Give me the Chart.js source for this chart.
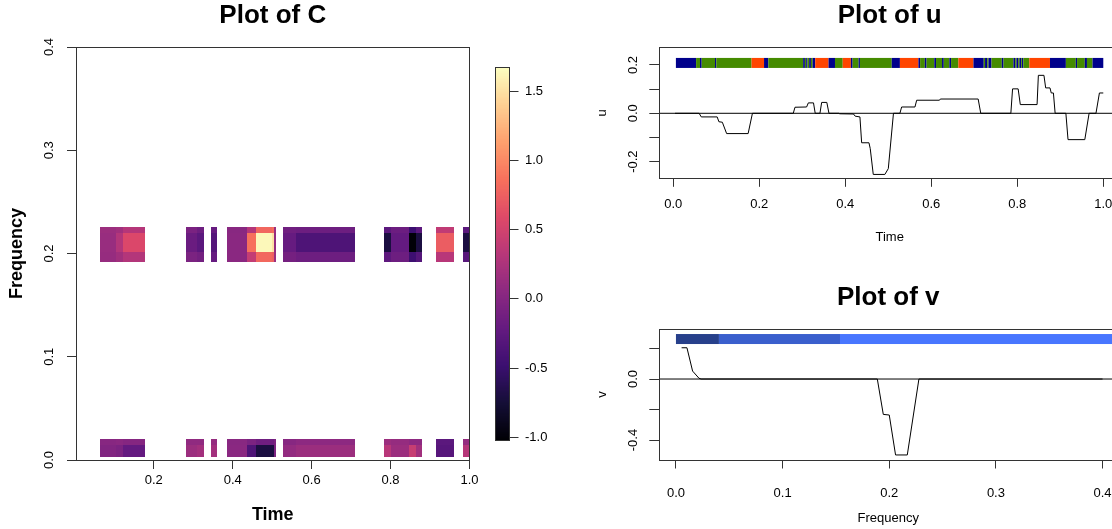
<!DOCTYPE html>
<html>
<head>
<meta charset="utf-8">
<script src="https://cdn.jsdelivr.net/npm/chart.js@4.4.1/dist/chart.umd.min.js"></script>
<style>
html,body{margin:0;padding:0;background:#fff;overflow:hidden;width:1112px;height:529px;position:relative}
.w{position:absolute}
canvas{display:block}
</style>
</head>
<body>
<div class="w" style="left:0;top:0"><canvas id="cvC" width="480" height="529"></canvas></div>
<div class="w" style="left:480px;top:0"><canvas id="cvBar" width="80" height="529"></canvas></div>
<div class="w" style="left:560px;top:0"><canvas id="cvU" width="600" height="260"></canvas></div>
<div class="w" style="left:560px;top:260px"><canvas id="cvV" width="600" height="269"></canvas></div>
<script>
// ---------------- DATA ----------------
// Heatmap C: time columns, frequency rows, values
const cTimeStart = [0.0639,0.1044,0.1214,0.2811,0.3090,0.3440,0.3845,0.4357,0.4586,0.4991,0.5037,0.5265,0.5615,0.7838,0.8023,0.8472,0.8641,0.9148,0.9833];
const cTimeEnd   = [0.1044,0.1214,0.1779,0.3090,0.3262,0.3610,0.4357,0.4586,0.4991,0.5037,0.5105,0.5615,0.7095,0.8023,0.8472,0.8641,0.8801,0.9605,1.0000];
const cFreqLow  = [0.0032,0.0145,0.1921,0.2012,0.2199];
const cFreqHigh = [0.0145,0.0200,0.2012,0.2199,0.2254];
const cRowA = [-0.02,-0.06,-0.21,0.15,0.20,0.20,0.04,-0.36,-0.70,-0.70,-0.05,0.10,0.15,0.33,0.15,0.43,0.19,-0.30,0.32];
const cRowB = [0.02,0.04,0.01,0.08,0.08,0.11,0.03,-0.06,-0.14,-0.14,-0.05,0.02,0.06,0.15,0.11,0.06,0.06,-0.27,0.11];
const cRowC = [0.12,0.19,0.30,-0.06,-0.11,-0.20,0.04,0.41,0.81,0.76,0.15,-0.10,-0.15,-0.25,-0.15,-0.47,-0.32,0.33,-0.29];
const cRowD = [0.13,0.30,0.57,-0.17,-0.27,-0.31,0.04,0.86,1.64,1.51,0.11,-0.20,-0.36,-0.70,-0.21,-1.00,-0.70,0.73,-0.70];
const cRowE = [0.15,0.19,0.31,-0.065,-0.15,-0.20,0.03,0.31,0.80,0.84,0.15,-0.13,-0.15,-0.27,-0.16,-0.48,-0.27,0.39,-0.27];
const cRange = [-1.02, 1.67];
const cTimeTicks = [0.2,0.4,0.6,0.8,1.0];
const cFreqTicks = [0.0,0.1,0.2,0.3,0.4];
const cBarTicks = [-1.0,-0.5,0.0,0.5,1.0,1.5];

// u series
const uTime  = [0.004,0.060,0.065,0.102,0.106,0.114,0.124,0.174,0.184,0.279,0.283,0.310,0.314,0.326,0.330,0.341,0.345,0.357,0.362,0.385,0.387,0.419,0.423,0.434,0.438,0.455,0.458,0.465,0.492,0.500,0.512,0.527,0.531,0.562,0.566,0.619,0.621,0.709,0.715,0.785,0.789,0.802,0.807,0.846,0.849,0.862,0.866,0.876,0.879,0.884,0.888,0.913,0.918,0.957,0.967,0.983,0.991,1.000];
const uValue = [0,0,-0.015,-0.015,-0.035,-0.037,-0.084,-0.084,0,0,0.025,0.026,0.043,0.043,0,0,0.045,0.045,0,0,-0.002,-0.003,-0.012,-0.015,-0.122,-0.122,-0.146,-0.253,-0.253,-0.229,0,0,0.026,0.026,0.054,0.054,0.059,0.059,0,0,0.101,0.101,0.036,0.036,0.157,0.157,0.105,0.105,0.084,0.084,0,0,-0.109,-0.109,0,0,0.084,0.084];
const uStripStart = [0.006,0.053,0.062,0.066,0.097,0.100,0.182,0.211,0.221,0.302,0.306,0.309,0.312,0.316,0.320,0.324,0.330,0.361,0.376,0.394,0.413,0.417,0.431,0.434,0.508,0.527,0.570,0.574,0.585,0.589,0.607,0.611,0.625,0.629,0.642,0.646,0.663,0.698,0.722,0.725,0.730,0.733,0.740,0.764,0.768,0.791,0.795,0.798,0.802,0.805,0.809,0.811,0.814,0.828,0.876,0.913,0.936,0.939,0.957,0.962,0.975];
const uStripEnd   = [0.053,0.062,0.066,0.097,0.100,0.182,0.211,0.221,0.302,0.306,0.309,0.312,0.316,0.320,0.324,0.330,0.361,0.376,0.394,0.413,0.417,0.431,0.434,0.508,0.527,0.570,0.574,0.585,0.589,0.607,0.611,0.625,0.629,0.642,0.646,0.663,0.698,0.722,0.725,0.730,0.733,0.740,0.764,0.768,0.791,0.795,0.798,0.802,0.805,0.809,0.811,0.814,0.828,0.876,0.913,0.936,0.939,0.957,0.962,0.975,1.000];
const uStripClass = ['N','G','N','G','N','G','O','N','G','N','G','N','G','N','G','N','O','N','G','O','N','G','N','G','N','O','N','G','N','G','N','G','N','G','N','G','O','N','G','N','G','N','G','N','G','N','G','N','G','N','G','N','G','O','N','G','N','G','N','G','N'];
const uStripBand = [0.1876, 0.229];
const uXTicks = [0.0,0.2,0.4,0.6,0.8,1.0];
const uYTicks = [-0.2,-0.1,0.0,0.1,0.2];
const uYLabelled = [-0.2,0.0,0.2];

// v series
const vFreq  = [0.0053,0.0103,0.0156,0.0216,0.0235,0.1888,0.1944,0.2000,0.2059,0.2169,0.2278,0.4000];
const vValue = [0.205,0.205,0.052,0.005,0,0,-0.232,-0.236,-0.498,-0.498,0,0];
const vStripStart = [0.000,0.0403,0.1538];
const vStripEnd   = [0.0403,0.1538,0.4141];
const vStripClass = ['royalblue4','royalblue3','royalblue1'];
const vStripBand = [0.2295, 0.295];
const vXTicks = [0.0,0.1,0.2,0.3,0.4];
const vYTicks = [-0.4,-0.2,0.0,0.2];
const vYLabelled = [-0.4,0.0];

// ---------------- STYLE ----------------
const stripColors = {N:'#00008B', G:'#458B00', O:'#FF4500', royalblue4:'#27408B', royalblue3:'#3A5FCD', royalblue1:'#4876FF'};
const magmaStops = ['#000004','#140e36','#3b0f70','#641a80','#8c2981','#b73779','#de4968','#f7705c','#fe9f6d','#fecf92','#fcfdbf'];
const AX = '#333';
Chart.defaults.font.family = "'Liberation Sans', Arial, sans-serif";
Chart.defaults.color = '#000';

function hex2rgb(h){return [parseInt(h.substr(1,2),16),parseInt(h.substr(3,2),16),parseInt(h.substr(5,2),16)];}
const magmaRGB = magmaStops.map(hex2rgb);
function magma(v){
  let t = (v - cRange[0])/(cRange[1]-cRange[0]);
  t = Math.max(0, Math.min(1, t));
  const p = t*(magmaRGB.length-1), i = Math.min(Math.floor(p), magmaRGB.length-2), f = p - i;
  const a = magmaRGB[i], b = magmaRGB[i+1];
  return 'rgb(' + [0,1,2].map(k=>Math.round(a[k]+(b[k]-a[k])*f)).join(',') + ')';
}
function fixed(size, horiz){
  return function(s){
    if (horiz) s.height = size; else s.width = size;
    s.paddingLeft = 0; s.paddingRight = 0; s.paddingTop = 0; s.paddingBottom = 0;
  };
}
function setTicks(arr){ return function(s){ s.ticks = arr.map(v=>({value:v})); }; }
function labelIf(list){ return function(v){ return list.some(l=>Math.abs(l-v)<1e-9) ? Number(v).toFixed(1) : ''; }; }
function al(p){ return Math.round(p - 0.5) + 0.5; }

const boxPlugin = {
  id:'box',
  afterDatasetsDraw(chart){
    const a = chart.chartArea, ctx = chart.ctx;
    ctx.save(); ctx.strokeStyle = AX; ctx.lineWidth = 1;
    const l = al(a.left), r = al(a.right), t = al(a.top), b = al(a.bottom);
    ctx.strokeRect(l, t, r-l, b-t);
    ctx.restore();
  }
};
const heatPlugin = {
  id:'heat',
  beforeDatasetsDraw(chart){
    const {ctx, chartArea:a, scales:{x, y}} = chart;
    const rows = [cRowA, cRowB, cRowC, cRowD, cRowE];
    ctx.save();
    ctx.beginPath(); ctx.rect(a.left, a.top, a.width, a.height); ctx.clip();
    rows.forEach((vals, r) => {
      const y0 = Math.round(y.getPixelForValue(cFreqLow[r])), y1 = Math.round(y.getPixelForValue(cFreqHigh[r]));
      vals.forEach((v, i) => {
        const x0 = Math.round(x.getPixelForValue(cTimeStart[i])), x1 = Math.round(x.getPixelForValue(cTimeEnd[i]));
        ctx.fillStyle = magma(v);
        ctx.fillRect(x0, y1, x1-x0, y0-y1);
      });
    });
    ctx.restore();
  }
};
const colorbarPlugin = {
  id:'cbar',
  beforeDatasetsDraw(chart){
    const {ctx, chartArea:a, scales:{y}} = chart;
    const N = 300, lo = cRange[0], hi = cRange[1];
    ctx.save();
    for (let k=0;k<N;k++){
      const v0 = lo + (hi-lo)*k/N, v1 = lo + (hi-lo)*(k+1)/N;
      const p0 = y.getPixelForValue(v0), p1 = y.getPixelForValue(v1);
      ctx.fillStyle = magma((v0+v1)/2);
      ctx.fillRect(a.left, Math.floor(p1), a.width, Math.ceil(p0)-Math.floor(p1));
    }
    ctx.restore();
  }
};
function stripPlugin(starts, ends, classes, band){
  return {
    id:'strip',
    beforeDatasetsDraw(chart){
      const {ctx, chartArea:a, scales:{x, y}} = chart;
      const yt = y.getPixelForValue(band[1]), yb = y.getPixelForValue(band[0]);
      ctx.save();
      ctx.beginPath(); ctx.rect(a.left, a.top, a.width, a.height); ctx.clip();
      starts.forEach((s, i) => {
        const x0 = x.getPixelForValue(s), x1 = x.getPixelForValue(ends[i]);
        ctx.fillStyle = stripColors[classes[i]];
        ctx.fillRect(x0, yt, x1-x0, yb-yt);
      });
      ctx.restore();
    }
  };
}
const common = {
  responsive:false, animation:false, events:[],
  plugins:{legend:{display:false}, tooltip:{enabled:false}}
};
function tickGrid(len){ return {display:true, drawOnChartArea:false, drawTicks:true, tickLength:len, tickColor:AX, tickWidth:1}; }

// ---------------- CHART C ----------------
new Chart(document.getElementById('cvC'), {
  type:'scatter',
  data:{datasets:[{data:[]}]},
  options:Object.assign({}, common, {
    layout:{padding:{left:0,right:10.5,top:0,bottom:0}},
    plugins:Object.assign({}, common.plugins, {
      title:{display:true, text:'Plot of C', fullSize:false, color:'#000', font:{size:26, weight:'bold'}, padding:{top:0, bottom:15.8}}
    }),
    scales:{
      x:{type:'linear', position:'bottom', min:0.003, max:1.0,
        afterBuildTicks:setTicks(cTimeTicks), afterFit:fixed(69,true),
        ticks:{callback:v=>Number(v).toFixed(1), font:{size:13}, padding:3.2, maxRotation:0, autoSkip:false},
        grid:tickGrid(9), border:{display:false},
        title:{display:true, text:'Time', font:{size:18, weight:'bold'}, padding:{top:0,bottom:3.2}}},
      y:{type:'linear', position:'left', min:0, max:0.4,
        afterBuildTicks:setTicks(cFreqTicks), afterFit:fixed(76,false),
        ticks:{callback:v=>Number(v).toFixed(1), font:{size:13}, padding:9, minRotation:90, maxRotation:90, crossAlign:'center', autoSkip:false},
        grid:tickGrid(9), border:{display:false},
        title:{display:true, text:'Frequency', font:{size:18, weight:'bold'}, padding:{top:6.2,bottom:0}}}
    }
  }),
  plugins:[heatPlugin, boxPlugin]
});

// ---------------- COLORBAR ----------------
new Chart(document.getElementById('cvBar'), {
  type:'scatter',
  data:{datasets:[{data:[]}]},
  options:Object.assign({}, common, {
    layout:{padding:{left:15,right:0,top:67.7,bottom:89}},
    scales:{
      x:{type:'linear', display:false, min:0, max:1},
      y:{type:'linear', position:'right', min:cRange[0], max:cRange[1],
        afterBuildTicks:setTicks(cBarTicks), afterFit:fixed(50.5,false),
        ticks:{callback:v=>Number(v).toFixed(1), font:{size:13}, padding:6.5, autoSkip:false},
        grid:tickGrid(9), border:{display:false}}
    }
  }),
  plugins:[colorbarPlugin, boxPlugin]
});

// ---------------- U ----------------
const uXMin = -0.0333, uXMax = 1.0398;
new Chart(document.getElementById('cvU'), {
  type:'scatter',
  data:{datasets:[
    {data:[{x:uXMin,y:0},{x:uXMax,y:0}], showLine:true, borderColor:'#000', borderWidth:1, pointRadius:0},
    {data:uTime.map((t,i)=>({x:t,y:uValue[i]})), showLine:true, borderColor:'#000', borderWidth:1, pointRadius:0, tension:0}
  ]},
  options:Object.assign({}, common, {
    layout:{padding:{left:0,right:39.6,top:0,bottom:0}},
    plugins:Object.assign({}, common.plugins, {
      title:{display:true, text:'Plot of u', fullSize:false, color:'#000', font:{size:26, weight:'bold'}, padding:{top:0.4, bottom:15.7}}
    }),
    scales:{
      x:{type:'linear', position:'bottom', min:uXMin, max:uXMax,
        afterBuildTicks:setTicks(uXTicks), afterFit:fixed(81.7,true),
        ticks:{callback:v=>Number(v).toFixed(1), font:{size:13}, padding:9.9, maxRotation:0, autoSkip:false},
        grid:tickGrid(8.5), border:{display:false},
        title:{display:true, text:'Time', font:{size:13}, padding:{top:0,bottom:15.2}}},
      y:{type:'linear', position:'left', min:-0.269, max:0.273,
        afterBuildTicks:setTicks(uYTicks), afterFit:fixed(99,false),
        ticks:{callback:labelIf(uYLabelled), font:{size:13}, padding:5.1, minRotation:90, maxRotation:90, crossAlign:'center', autoSkip:false},
        grid:tickGrid(9.7), border:{display:false},
        title:{display:true, text:'u', font:{size:13}, padding:{top:34.9,bottom:0}}}
    }
  }),
  plugins:[stripPlugin(uStripStart, uStripEnd, uStripClass, uStripBand), boxPlugin]
});

// ---------------- V ----------------
const vXMin = -0.0159, vXMax = 0.4141;
new Chart(document.getElementById('cvV'), {
  type:'scatter',
  data:{datasets:[
    {data:[{x:vXMin,y:0},{x:vXMax,y:0}], showLine:true, borderColor:'#000', borderWidth:1, pointRadius:0},
    {data:vFreq.map((f,i)=>({x:f,y:vValue[i]})), showLine:true, borderColor:'#000', borderWidth:1, pointRadius:0, tension:0}
  ]},
  options:Object.assign({}, common, {
    layout:{padding:{left:0,right:42.4,top:0,bottom:0}},
    plugins:Object.assign({}, common.plugins, {
      title:{display:true, text:'Plot of v', fullSize:false, color:'#000', font:{size:26, weight:'bold'}, padding:{top:22.4, bottom:15.4}}
    }),
    scales:{
      x:{type:'linear', position:'bottom', min:vXMin, max:vXMax,
        afterBuildTicks:setTicks(vXTicks), afterFit:fixed(69,true),
        ticks:{callback:v=>Number(v).toFixed(1), font:{size:13}, padding:16.7, maxRotation:0, autoSkip:false},
        grid:tickGrid(8.5), border:{display:false},
        title:{display:true, text:'Frequency', font:{size:13}, padding:{top:0,bottom:3.2}}},
      y:{type:'linear', position:'left', min:-0.531, max:0.328,
        afterBuildTicks:setTicks(vYTicks), afterFit:fixed(99,false),
        ticks:{callback:labelIf(vYLabelled), font:{size:13}, padding:5.1, minRotation:90, maxRotation:90, crossAlign:'center', autoSkip:false},
        grid:tickGrid(9.7), border:{display:false},
        title:{display:true, text:'v', font:{size:13}, padding:{top:34.9,bottom:0}}}
    }
  }),
  plugins:[stripPlugin(vStripStart, vStripEnd, vStripClass, vStripBand), boxPlugin]
});
</script>
</body>
</html>
